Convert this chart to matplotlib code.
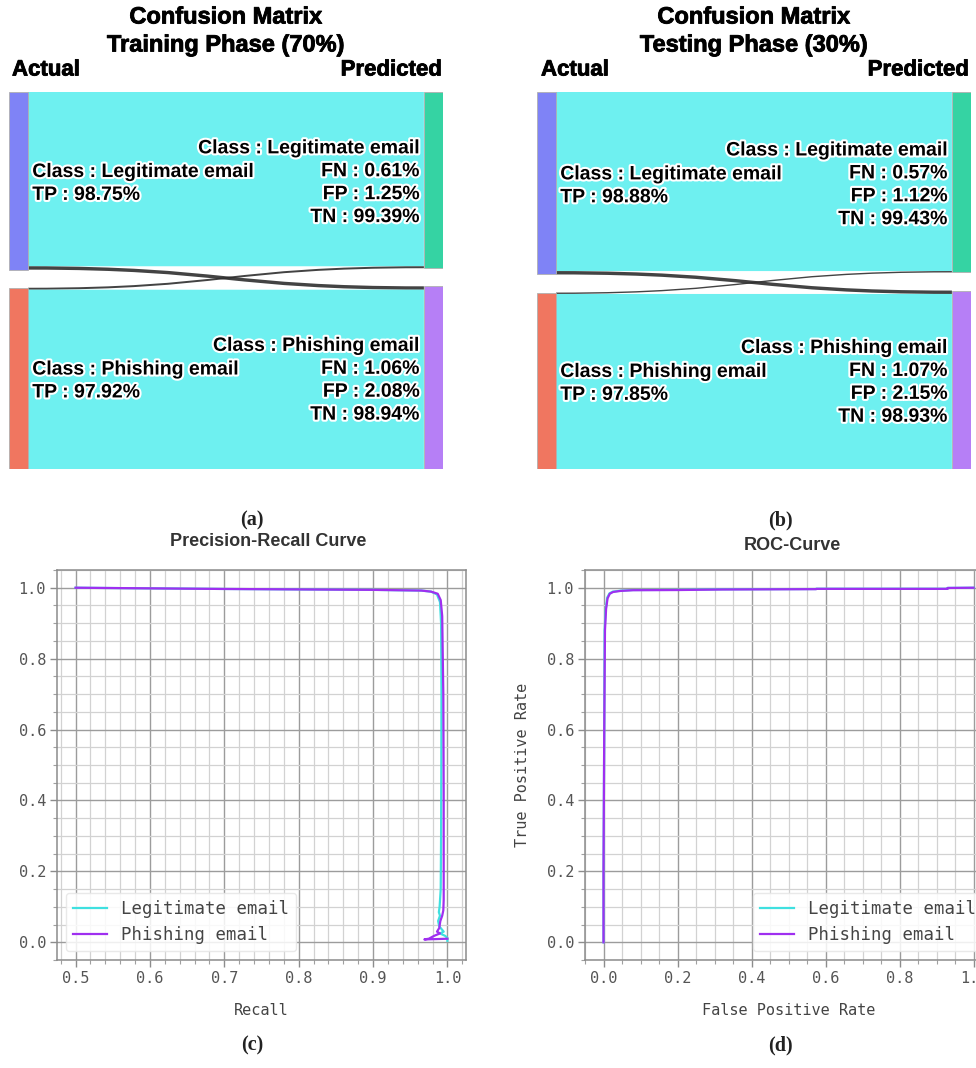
import numpy as np
import matplotlib
matplotlib.use("Agg")
import matplotlib.pyplot as plt
from matplotlib.patches import Rectangle, PathPatch
from matplotlib.path import Path
import matplotlib.patheffects as pe
from matplotlib.ticker import MultipleLocator, AutoMinorLocator

# ---------------- data ----------------
classes = ["Legitimate email", "Phishing email"]

# Sankey flows (% of samples): rows = actual class, cols = predicted class
train_flows = [[48.55, 0.95], [0.55, 49.95]]
test_flows = [[49.89, 0.95], [0.39, 48.77]]

train_tp = [98.75, 97.92]
train_fn = [0.61, 1.06]
train_fp = [1.25, 2.08]
train_tn = [99.39, 98.94]

test_tp = [98.88, 97.85]
test_fn = [0.57, 1.07]
test_fp = [1.12, 2.15]
test_tn = [99.43, 98.93]

# Precision-Recall curve points (recall, precision)
pr_legit_recall = [0.5, 0.70, 0.90, 0.965, 0.978, 0.986, 0.990, 0.9915, 0.992, 0.9918,
                   0.9915, 0.991, 0.9895, 0.9885, 0.990, 0.9875, 0.989, 0.993, 0.995,
                   0.990, 0.997, 1.0, 1.0]
pr_legit_precision = [1.0, 0.9965, 0.994, 0.992, 0.989, 0.981, 0.96, 0.90, 0.70, 0.50,
                      0.30, 0.15, 0.10, 0.085, 0.075, 0.06, 0.045, 0.035, 0.03,
                      0.025, 0.018, 0.012, 0.004]
pr_phish_recall = [0.5, 0.70, 0.90, 0.965, 0.978, 0.987, 0.991, 0.993, 0.9945, 0.995,
                   0.995, 0.995, 0.9945, 0.993, 0.9905, 0.989, 0.986, 0.99, 0.982,
                   0.975, 0.969, 0.985, 1.0]
pr_phish_precision = [1.0, 0.9965, 0.994, 0.992, 0.989, 0.983, 0.965, 0.92, 0.70, 0.42,
                      0.25, 0.12, 0.09, 0.075, 0.06, 0.04, 0.03, 0.025, 0.018,
                      0.010, 0.008, 0.009, 0.01]

# ROC curve points (fpr, tpr)
roc_legit_fpr = [0.0, 0.0, 0.002, 0.003, 0.006, 0.010, 0.016, 0.025, 0.045, 0.08, 0.2,
                 0.32, 0.575, 0.575, 0.93, 0.93, 1.0]
roc_legit_tpr = [0.0, 0.2, 0.6, 0.88, 0.94, 0.972, 0.984, 0.989, 0.9915, 0.9935, 0.994,
                 0.9955, 0.9963, 0.997, 0.997, 0.9995, 1.0]
roc_phish_fpr = [0.0, 0.0, 0.002, 0.004, 0.007, 0.011, 0.017, 0.026, 0.046, 0.08, 0.2,
                 0.32, 0.575, 0.575, 0.93, 0.93, 1.0]
roc_phish_tpr = [0.0, 0.2, 0.6, 0.88, 0.94, 0.970, 0.983, 0.988, 0.991, 0.993, 0.9935,
                 0.995, 0.996, 0.9968, 0.9968, 0.9993, 1.0]

# ---------------- figure ----------------
W, H = 976, 1068
fig = plt.figure(figsize=(W / 100, H / 100), dpi=100)
fig.patch.set_facecolor("white")


def px_axes(x0, y0, x1, y1):
    return fig.add_axes([x0 / W, 1 - y1 / H, (x1 - x0) / W, (y1 - y0) / H])


def ftext(x, y, s, **kw):
    return fig.text(x / W, 1 - y / H, s, **kw)


SANS = ["Liberation Sans", "DejaVu Sans"]
MONO = ["DejaVu Sans Mono"]
SERIF = ["Liberation Serif", "DejaVu Serif"]

node_colors_left = ["#7f83f6", "#f07660"]
node_colors_right = ["#35d3a3", "#b67ff6"]
flow_cyan = "#6ef0f0"
flow_dark = "#2e2e2e"
outline = [pe.withStroke(linewidth=3, foreground="white")]
title_fx = [pe.withStroke(linewidth=0.6, foreground="black")]
LINE_PT = 16.5  # spacing between label lines (points)


def band(x0, x1, y0a, y0b, y1a, y1b):
    xm = (x0 + x1) / 2
    verts = [(x0, y0a), (xm, y0a), (xm, y1a), (x1, y1a),
             (x1, y1b), (xm, y1b), (xm, y0b), (x0, y0b), (x0, y0a)]
    codes = [Path.MOVETO, Path.CURVE4, Path.CURVE4, Path.CURVE4,
             Path.LINETO, Path.CURVE4, Path.CURVE4, Path.CURVE4, Path.CLOSEPOLY]
    return Path(verts, codes)


def label_block(ax, lines, xy, dx, ha):
    n = len(lines)
    for k, line in enumerate(lines):
        dy = ((n - 1) / 2 - k) * LINE_PT - 0.8
        ax.annotate(line, xy=xy, xytext=(dx, dy), textcoords="offset points",
                    ha=ha, va="center_baseline", family=SANS, weight="bold", size=14,
                    path_effects=outline, zorder=5)


def draw_sankey(ax, flows, tp, fn, fp, tn, gap_frac=0.0504, nw=0.044):
    flows = np.asarray(flows, dtype=float)
    n = flows.shape[0]
    total = flows.sum()
    gap = total * gap_frac
    span = total + gap * (n - 1)
    left_tot = flows.sum(axis=1)
    right_tot = flows.sum(axis=0)
    left_start = [left_tot[:i].sum() + i * gap for i in range(n)]
    right_start = [right_tot[:j].sum() + j * gap for j in range(n)]
    # links
    for i in range(n):
        for j in range(n):
            s0 = left_start[i] + flows[i, :j].sum()
            t0 = right_start[j] + flows[:i, j].sum()
            v = flows[i, j]
            col = flow_cyan if i == j else flow_dark
            alpha = 1.0 if i == j else 0.9
            ax.add_patch(PathPatch(band(nw, 1 - nw, s0, s0 + v, t0, t0 + v),
                                   facecolor=col, edgecolor="none", alpha=alpha, zorder=1))
    # nodes
    for i in range(n):
        ax.add_patch(Rectangle((0, left_start[i]), nw, left_tot[i],
                               facecolor=node_colors_left[i], edgecolor="#b0b0b0",
                               lw=0.6, zorder=2))
        ax.add_patch(Rectangle((1 - nw, right_start[i]), nw, right_tot[i],
                               facecolor=node_colors_right[i], edgecolor="#b0b0b0",
                               lw=0.6, zorder=2))
        lc = left_start[i] + left_tot[i] / 2
        rc = right_start[i] + right_tot[i] / 2
        label_block(ax, [f"Class : {classes[i]}", f"TP : {tp[i]:.2f}%"],
                    (nw, lc), 3, "left")
        label_block(ax, [f"Class : {classes[i]}", f"FN : {fn[i]:.2f}%",
                         f"FP : {fp[i]:.2f}%", f"TN : {tn[i]:.2f}%"],
                    (1 - nw, rc), -3, "right")
    ax.set_xlim(0, 1)
    ax.set_ylim(span, 0)
    ax.axis("off")


# Sankey (a)
ax_a = px_axes(9, 92, 443, 469)
draw_sankey(ax_a, train_flows, train_tp, train_fn, train_fp, train_tn)
ftext(226, 17, "Confusion Matrix", ha="center", va="center", family=SANS,
      weight="bold", size=17, path_effects=title_fx)
ftext(226, 45, "Training Phase (70%)", ha="center", va="center", family=SANS,
      weight="bold", size=17, path_effects=title_fx)
ftext(12, 70, "Actual", ha="left", va="center", family=SANS, weight="bold", size=16,
      path_effects=title_fx)
ftext(442, 70, "Predicted", ha="right", va="center", family=SANS, weight="bold", size=16,
      path_effects=title_fx)

# Sankey (b)
ax_b = px_axes(537, 92, 971, 469)
draw_sankey(ax_b, test_flows, test_tp, test_fn, test_fp, test_tn)
ftext(754, 17, "Confusion Matrix", ha="center", va="center", family=SANS,
      weight="bold", size=17, path_effects=title_fx)
ftext(754, 45, "Testing Phase (30%)", ha="center", va="center", family=SANS,
      weight="bold", size=17, path_effects=title_fx)
ftext(541, 70, "Actual", ha="left", va="center", family=SANS, weight="bold", size=16,
      path_effects=title_fx)
ftext(969, 70, "Predicted", ha="right", va="center", family=SANS, weight="bold", size=16,
      path_effects=title_fx)

# captions
for x, y, s in [(252, 520, "(a)"), (780, 520, "(b)"), (252, 1045, "(c)"), (780, 1045, "(d)")]:
    ftext(x, y, s, ha="center", va="center", family=SERIF, weight="bold", size=14.5,
          color="#222222")

CYAN = "#3fe0e0"
PURPLE = "#9f2ff0"


def style_axes(ax):
    ax.set_facecolor("white")
    for sp in ax.spines.values():
        sp.set_color("#8c8c8c")
        sp.set_linewidth(1.1)
    ax.xaxis.set_minor_locator(AutoMinorLocator())
    ax.yaxis.set_minor_locator(AutoMinorLocator())
    ax.grid(True, which="major", color="#9c9c9c", lw=1.0)
    ax.grid(True, which="minor", color="#d2d2d2", lw=0.9)
    ax.set_axisbelow(True)
    ax.tick_params(which="major", direction="out", length=5, width=1, color="#8c8c8c",
                   labelcolor="#555555", labelsize=11, pad=3)
    ax.tick_params(which="minor", direction="out", length=3, width=0.8, color="#a0a0a0")
    for lab in ax.get_xticklabels() + ax.get_yticklabels():
        lab.set_family(MONO)


# PR curve
ax_c = px_axes(57, 570, 466, 960)
ax_c.plot(pr_legit_recall, pr_legit_precision, color=CYAN, lw=1.6, label="Legitimate email")
ax_c.plot(pr_phish_recall, pr_phish_precision, color=PURPLE, lw=1.6, label="Phishing email")
ax_c.set_xlim(0.475, 1.025)
ax_c.set_ylim(-0.05, 1.05)
ax_c.xaxis.set_major_locator(MultipleLocator(0.1))
ax_c.yaxis.set_major_locator(MultipleLocator(0.2))
style_axes(ax_c)
ax_c.set_xlabel("Recall", family=MONO, size=11, color="#444444", labelpad=12)
leg = ax_c.legend(loc="lower left", prop={"family": MONO, "size": 12.5}, framealpha=0.85,
                  edgecolor="#e6e6e6", fancybox=True, handlelength=2.0)
for t in leg.get_texts():
    t.set_color("#444444")
ftext(268, 541, "Precision-Recall Curve", ha="center", va="center", family=SANS,
      weight="bold", size=13, color="#333333")

# ROC curve
ax_d = px_axes(585, 570, 992, 960)
ax_d.plot(roc_legit_fpr, roc_legit_tpr, color=CYAN, lw=1.6, label="Legitimate email")
ax_d.plot(roc_phish_fpr, roc_phish_tpr, color=PURPLE, lw=1.6, label="Phishing email")
ax_d.set_xlim(-0.05, 1.05)
ax_d.set_ylim(-0.05, 1.05)
ax_d.xaxis.set_major_locator(MultipleLocator(0.2))
ax_d.yaxis.set_major_locator(MultipleLocator(0.2))
style_axes(ax_d)
ax_d.set_xlabel("False Positive Rate", family=MONO, size=11, color="#444444", labelpad=12)
ax_d.set_ylabel("True Positive Rate", family=MONO, size=11, color="#444444", labelpad=12)
leg = ax_d.legend(loc="lower right", prop={"family": MONO, "size": 12.5}, framealpha=0.85,
                  edgecolor="#e6e6e6", fancybox=True, handlelength=2.0)
for t in leg.get_texts():
    t.set_color("#444444")
ftext(792, 546, "ROC-Curve", ha="center", va="center", family=SANS,
      weight="bold", size=13, color="#333333")

fig.savefig("out.png", dpi=100, facecolor="white")
